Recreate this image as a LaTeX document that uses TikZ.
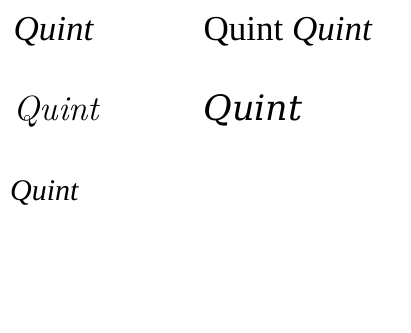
\documentclass[tikz,border=0pt]{standalone}
\usepackage{fontspec}
\newfontfamily\fa{Liberation Serif}
\newfontfamily\fc{Latin Modern Roman}
\newfontfamily\fb{DejaVu Serif}
\begin{document}
\begin{tikzpicture}[x=1pt,y=-1pt]
\useasboundingbox (0,0) rectangle (411,332);
\node[anchor=base west] (a) at (10,40) {\fontsize{35}{35}\selectfont\fa\itshape Quint};
\node[anchor=base west] (b) at (200,40) {\fontsize{35}{35}\selectfont\fa Quint \itshape Quint};
\node[anchor=base west] (c) at (10,120) {\fontsize{35}{35}\selectfont\fc\itshape Quint};
\node[anchor=base west] (d) at (200,120) {\fontsize{35}{35}\selectfont\fb\itshape Quint};
\node[anchor=base west,inner sep=0pt] (e) at (10,200) {\fontsize{30}{30}\selectfont\fa\itshape Quint};
\end{tikzpicture}
\end{document}
